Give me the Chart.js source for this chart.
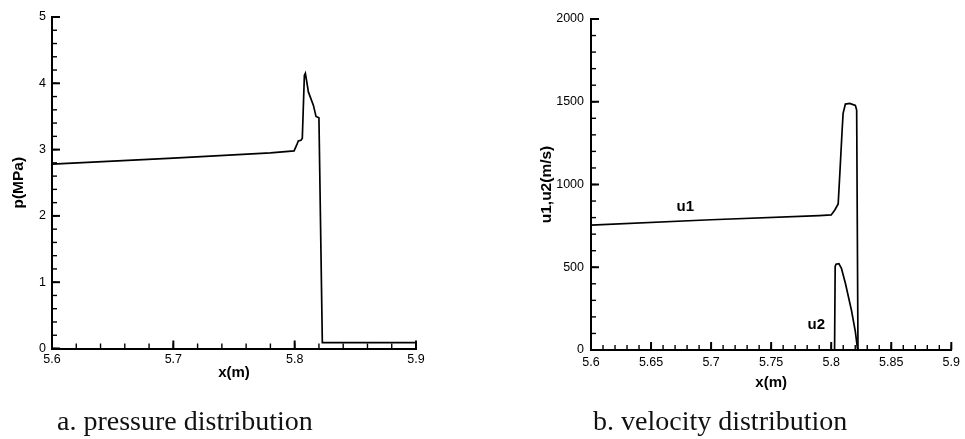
<!DOCTYPE html>
<html>
<head>
<meta charset="utf-8">
<title>Pressure and velocity distribution</title>
<script src="https://cdn.jsdelivr.net/npm/chart.js@4.4.1/dist/chart.umd.min.js"></script>
<style>
  html, body { margin: 0; padding: 0; background: #fff; }
  body { width: 965px; height: 439px; position: relative; overflow: hidden; }
  .panel { position: absolute; top: 0; height: 439px; }
  #panelA { left: 0; width: 480px; }
  #panelB { left: 480px; width: 485px; }
  .caption {
    position: absolute;
    font-family: "Liberation Serif", "Times New Roman", serif;
    font-size: 28px;
    line-height: 1;
    color: #111;
    white-space: nowrap;
  }
</style>
</head>
<body>
<div class="panel" id="panelA"><canvas id="pressureChart" width="480" height="439"></canvas></div>
<div class="panel" id="panelB"><canvas id="velocityChart" width="485" height="439"></canvas></div>
<div class="caption" style="left:57px; top:407px;">a. pressure distribution</div>
<div class="caption" style="left:593px; top:407px;">b. velocity distribution</div>

<script>
// ---- pressure along the tube, p (MPa) vs x (m) ----
const pressureX = [5.600, 5.700, 5.780, 5.7995, 5.8017, 5.8030, 5.8052, 5.8063, 5.8080, 5.8088, 5.8100, 5.8113, 5.8154, 5.8176, 5.8200, 5.8228, 5.9000];
const pressureP = [2.78, 2.87, 2.95, 2.98, 3.07, 3.13, 3.14, 3.17, 4.12, 4.15, 4.02, 3.87, 3.67, 3.50, 3.48, 0.09, 0.09];

// ---- phase velocities, u1 and u2 (m/s) vs x (m) ----
const u1X = [5.600, 5.700, 5.790, 5.800, 5.803, 5.8058, 5.8072, 5.8091, 5.8099, 5.8118, 5.8154, 5.8201, 5.8212, 5.8223];
const u1V = [755, 787, 812, 816, 846, 882, 1068, 1329, 1430, 1486, 1490, 1478, 1450, 0];
const u2X = [5.8028, 5.8033, 5.8040, 5.8064, 5.8085, 5.8118, 5.8168, 5.8201, 5.8220];
const u2V = [0, 505, 518, 522, 494, 403, 242, 111, 0];

// ---- curve labels placed in data coordinates ----
const curveLabels = ["u1", "u2"];
const curveLabelX = [5.6785, 5.7876];
const curveLabelY = [864, 151];

// ---- axis ticks ----
const pressureXTicks = [5.6, 5.7, 5.8, 5.9];
const pressureXTickLabels = ["5.6", "5.7", "5.8", "5.9"];
const pressureYTicks = [0, 1, 2, 3, 4, 5];
const pressureYTickLabels = ["0", "1", "2", "3", "4", "5"];
const velocityXTicks = [5.6, 5.65, 5.7, 5.75, 5.8, 5.85, 5.9];
const velocityXTickLabels = ["5.6", "5.65", "5.7", "5.75", "5.8", "5.85", "5.9"];
const velocityYTicks = [0, 500, 1000, 1500, 2000];
const velocityYTickLabels = ["0", "500", "1000", "1500", "2000"];

const SANS = '"Liberation Sans", Arial, Helvetica, sans-serif';

// Tick marks pointing into the plot area: long ones at labelled values, short minor ones between.
const innerTicks = {
  id: 'innerTicks',
  afterDraw(chart, args, opts) {
    const ctx = chart.ctx;
    const area = chart.chartArea;
    ctx.save();
    ctx.strokeStyle = '#000';
    ctx.lineCap = 'butt';
    const draw = (scale, values, len, width) => {
      ctx.lineWidth = width;
      values.forEach(v => {
        ctx.beginPath();
        if (scale.isHorizontal()) {
          const px = scale.getPixelForValue(v);
          ctx.moveTo(px, area.bottom);
          ctx.lineTo(px, area.bottom - len);
        } else {
          const py = scale.getPixelForValue(v);
          ctx.moveTo(area.left, py);
          ctx.lineTo(area.left + len, py);
        }
        ctx.stroke();
      });
    };
    ['x', 'y'].forEach(id => {
      const scale = chart.scales[id];
      const step = opts[id + 'Minor'];
      const minors = [];
      const n = Math.round((scale.max - scale.min) / step);
      for (let i = 0; i <= n; i++) minors.push(scale.min + i * step);
      draw(scale, minors, 5, 1.4);
      draw(scale, scale.ticks.map(t => t.value), 8, 2);
    });
    ctx.restore();
  }
};

// Text labels next to the curves.
const curveText = {
  id: 'curveText',
  afterDatasetsDraw(chart, args, opts) {
    if (!opts.names) return;
    const ctx = chart.ctx;
    ctx.save();
    ctx.font = 'bold 15px ' + SANS;
    ctx.fillStyle = '#000';
    ctx.textAlign = 'center';
    ctx.textBaseline = 'middle';
    opts.names.forEach((t, i) => {
      ctx.fillText(t, chart.scales.x.getPixelForValue(opts.xs[i]), chart.scales.y.getPixelForValue(opts.ys[i]));
    });
    ctx.restore();
  }
};

function toPoints(xs, ys) {
  return xs.map((x, i) => ({ x: x, y: ys[i] }));
}

function lineSet(xs, ys) {
  return {
    data: toPoints(xs, ys),
    showLine: true,
    borderColor: '#000',
    borderWidth: 1.7,
    pointRadius: 0,
    tension: 0,
    fill: false
  };
}

function makeChart(canvasId, cfg) {
  return new Chart(document.getElementById(canvasId), {
    type: 'scatter',
    data: { datasets: cfg.datasets },
    options: {
      responsive: false,
      devicePixelRatio: 1,
      animation: false,
      layout: { padding: cfg.padding },
      plugins: {
        legend: { display: false },
        tooltip: { enabled: false },
        innerTicks: { xMinor: cfg.xMinor, yMinor: cfg.yMinor },
        curveText: cfg.curveText || {}
      },
      scales: {
        x: {
          type: 'linear',
          min: cfg.xTicks[0],
          max: cfg.xTicks[cfg.xTicks.length - 1],
          afterBuildTicks: s => { s.ticks = cfg.xTicks.map(v => ({ value: v })); },
          afterFit: s => { s.height = cfg.xHeight; },
          grid: { display: true, drawOnChartArea: false, drawTicks: false },
          border: { display: true, color: '#000', width: 2 },
          ticks: {
            autoSkip: false, maxRotation: 0, padding: cfg.xTickPad, color: '#000',
            font: { family: SANS, size: 12.5 },
            callback: (v, i) => cfg.xLabels[i]
          },
          title: {
            display: true, text: 'x(m)', color: '#000',
            font: { family: SANS, size: 15, weight: 'bold' },
            padding: { top: 0, bottom: cfg.xTitlePad }
          }
        },
        y: {
          type: 'linear',
          min: cfg.yTicks[0],
          max: cfg.yTicks[cfg.yTicks.length - 1],
          afterBuildTicks: s => { s.ticks = cfg.yTicks.map(v => ({ value: v })); },
          afterFit: s => { s.width = cfg.yWidth; },
          grid: { display: true, drawOnChartArea: false, drawTicks: false },
          border: { display: true, color: '#000', width: 2 },
          ticks: {
            autoSkip: false, padding: cfg.yTickPad, color: '#000',
            font: { family: SANS, size: 12.5 },
            callback: (v, i) => cfg.yLabels[i]
          },
          title: {
            display: true, text: cfg.yTitle, color: '#000',
            font: { family: SANS, size: 15.5, weight: 'bold' },
            padding: { top: cfg.yTitlePad, bottom: 0 }
          }
        }
      }
    },
    plugins: [innerTicks, curveText]
  });
}

makeChart('pressureChart', {
  datasets: [lineSet(pressureX, pressureP)],
  padding: { left: 0, top: 17, right: 64, bottom: 40.5 },
  xTicks: pressureXTicks, xLabels: pressureXTickLabels,
  yTicks: pressureYTicks, yLabels: pressureYTickLabels,
  xMinor: 0.02, yMinor: 0.2,
  xHeight: 50, yWidth: 52,
  xTickPad: 4, yTickPad: 6,
  xTitlePad: 17, yTitlePad: 9,
  yTitle: 'p(MPa)'
});

makeChart('velocityChart', {
  datasets: [lineSet(u1X, u1V), lineSet(u2X, u2V)],
  padding: { left: 0, top: 19, right: 12, bottom: 39 },
  xTicks: velocityXTicks, xLabels: velocityXTickLabels,
  yTicks: velocityYTicks, yLabels: velocityYTickLabels,
  xMinor: 0.01, yMinor: 100,
  xHeight: 50, yWidth: 111,
  xTickPad: 5, yTickPad: 7,
  xTitlePad: 8, yTitlePad: 57,
  yTitle: 'u1,u2(m/s)',
  curveText: { names: curveLabels, xs: curveLabelX, ys: curveLabelY }
});
</script>
</body>
</html>
